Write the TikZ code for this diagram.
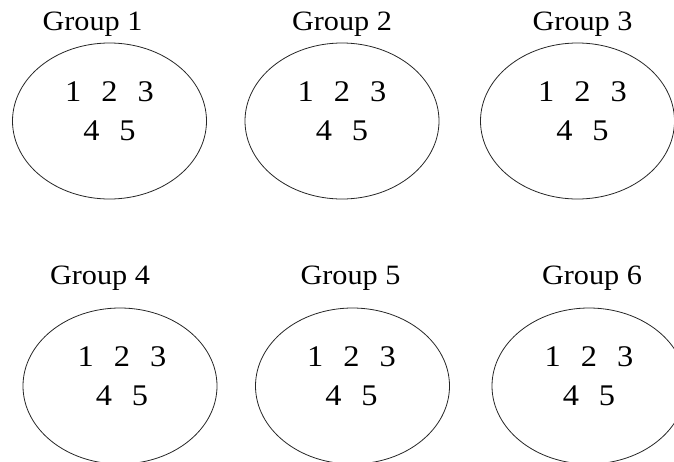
\documentclass[tikz,border=0pt]{standalone}
\usepackage{fontspec}
\setmainfont{Liberation Serif}[FakeStretch=1.08]
\usetikzlibrary{shapes,positioning}

\begin{document}
\begin{tikzpicture}[
        x=1pt, y=-1pt,
        every path/.style={line width=.8pt},
        group/.style={draw=black!85, ellipse, minimum width=194pt, minimum height=156pt, inner sep=0pt},
        title/.style={font=\fontsize{28}{32}\selectfont, inner sep=0pt},
        members/.style={font=\fontsize{30}{39}\selectfont, align=center, inner sep=0pt}
    ]
    \useasboundingbox (0,0) rectangle (674,461);

    % Groups
    \node[group] (g1) at (109.5,121) {};
    \node[group] (g2) at (342,121) {};
    \node[group] (g3) at (577.5,121) {};
    \node[group] (g4) at (120,386) {};
    \node[group] (g5) at (352.5,386) {};
    \node[group] (g6) at (589,386) {};

    % Titles
    \node (t1)[above=12pt of g1.north, anchor=base, title, xshift=-17pt] {Group 1};
    \node (t2)[above=12pt of g2.north, anchor=base, title] {Group 2};
    \node (t3)[above=12pt of g3.north, anchor=base, title, xshift=5pt] {Group 3};
    \node (t4)[above=23pt of g4.north, anchor=base, title, xshift=-20pt] {Group 4};
    \node (t5)[above=23pt of g5.north, anchor=base, title, xshift=-2pt] {Group 5};
    \node (t6)[above=23pt of g6.north, anchor=base, title, xshift=3pt] {Group 6};

    % Members
    \node (m1)[members, yshift=10pt] at (g1.center) {1\hspace{20pt}2\hspace{20pt}3 \\ 4\hspace{20pt}5};
    \node (m2)[members, yshift=10pt] at (g2.center) {1\hspace{20pt}2\hspace{20pt}3 \\ 4\hspace{20pt}5};
    \node (m3)[members, yshift=10pt, xshift=5pt] at (g3.center) {1\hspace{20pt}2\hspace{20pt}3 \\ 4\hspace{20pt}5};
    \node (m4)[members, yshift=10pt, xshift=2pt] at (g4.center) {1\hspace{20pt}2\hspace{20pt}3 \\ 4\hspace{20pt}5};
    \node (m5)[members, yshift=10pt, xshift=-1pt] at (g5.center) {1\hspace{20pt}2\hspace{20pt}3 \\ 4\hspace{20pt}5};
    \node (m6)[members, yshift=10pt] at (g6.center) {1\hspace{20pt}2\hspace{20pt}3 \\ 4\hspace{20pt}5};

\end{tikzpicture}
\end{document}
